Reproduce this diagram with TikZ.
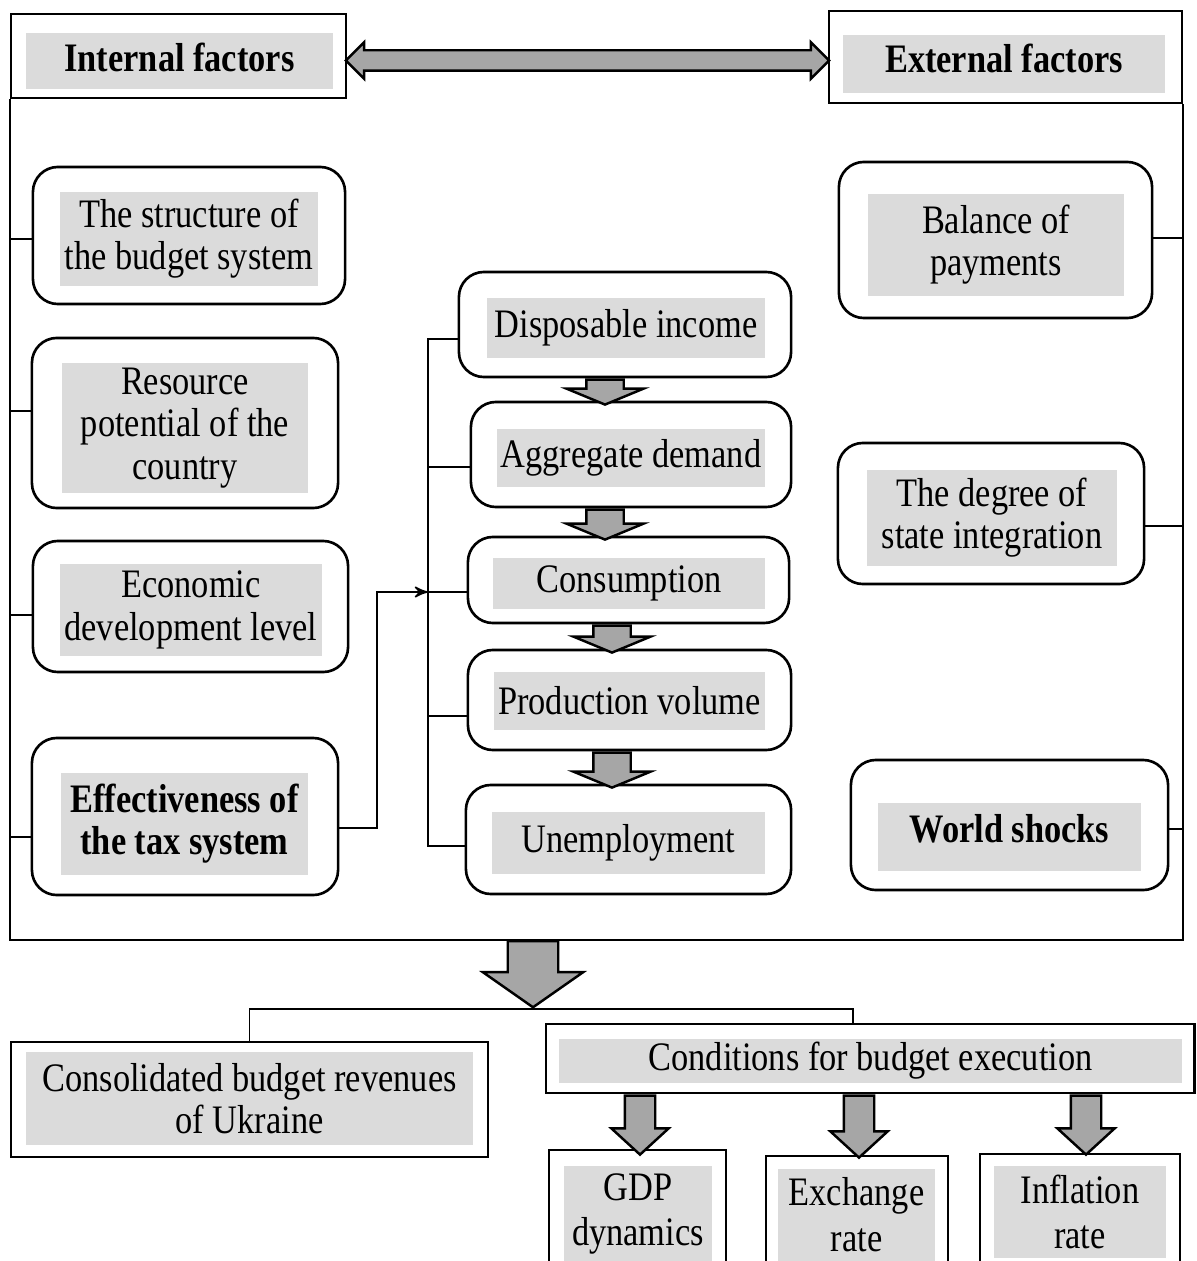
\documentclass[tikz,border=0pt]{standalone}
\usepackage{fontspec}
\setmainfont{Liberation Serif}[FakeStretch=0.85]
\usepackage{tikz}
\usetikzlibrary{arrows,shapes.arrows,calc}

\definecolor{labelgray}{RGB}{219,219,219}
\definecolor{arrowgray}{RGB}{166,166,166}

\begin{document}
\begin{tikzpicture}[x=0.01cm,y=-0.01cm,
		every node/.style={font=\fontsize{11.5}{12}\selectfont},
		plain box/.style={draw,line width=0.75pt,inner sep=0pt},
		round box/.style={plain box,rounded corners=0.25cm},
		gray label/.style={fill=labelgray,inner sep=0pt,align=center},
		bold label/.style={gray label,font=\fontsize{11.5}{12}\selectfont\bfseries},
		low label/.style={gray label,font=\fontsize{11.5}{13}\selectfont},
		block arrow/.style={single arrow,draw,fill=arrowgray,line width=0.7pt,rotate=-90,anchor=tail,inner xsep=0pt},
		mid arrow/.style={block arrow,inner ysep=0.175cm,single arrow head extend=0.2cm,single arrow tip angle=135},
		big arrow/.style={block arrow,inner ysep=0.24cm,single arrow head extend=0.25cm,single arrow tip angle=110},
		small arrow/.style={block arrow,inner ysep=0.14cm,single arrow head extend=0.135cm,single arrow tip angle=95},
		frame/.style={line width=0.6pt},
		link/.style={line width=0.45pt}]

	\useasboundingbox (0,0) rectangle (1196,1261);
	\clip (0,0) rectangle (1196,1261);

	% headings
	\node[plain box,minimum width=3.35cm,minimum height=0.84cm] (int) at (178.5,56) {};
	\node[bold label,minimum width=3.07cm,minimum height=0.55cm,text depth=0.08cm] (intl) at (179.5,61) {Internal factors};
	\node[plain box,minimum width=3.53cm,minimum height=0.92cm] (ext) at (1005.5,57) {};
	\node[bold label,minimum width=3.22cm,minimum height=0.58cm,text depth=0.12cm] (extl) at (1004,64) {External factors};
	\node[double arrow,draw,fill=arrowgray,line width=0.7pt,inner xsep=0pt,inner ysep=0.09cm,
		double arrow head extend=0.08cm,minimum height=4.83cm] (both) at ($(int.east)!.5!(ext.west)+(0,4)$) {};

	% internal factors
	\node[round box,minimum width=3.12cm,minimum height=1.37cm] (l1) at (189,235.5) {};
	\node[gray label,minimum width=2.58cm,minimum height=0.94cm] (l1t) at (189,239) {The structure of\\the budget system};
	\node[round box,minimum width=3.06cm,minimum height=1.70cm] (l2) at (185,423) {};
	\node[gray label,minimum width=2.46cm,minimum height=1.30cm] (l2t) at (185,428) {Resource\\potential of the\\country};
	\node[round box,minimum width=3.15cm,minimum height=1.31cm] (l3) at (190.5,606.5) {};
	\node[gray label,minimum width=2.62cm,minimum height=0.91cm] (l3t) at (191,610) {Economic\\development level};
	\node[round box,minimum width=3.06cm,minimum height=1.57cm] (l4) at (185,816.5) {};
	\node[bold label,minimum width=2.47cm,minimum height=1.02cm] (l4t) at (184.5,824) {Effectiveness of\\the tax system};

	% chain in the middle
	\node[round box,minimum width=3.32cm,minimum height=1.05cm] (m1) at (625,324.5) {};
	\node[gray label,minimum width=2.78cm,minimum height=0.59cm] (m1t) at (626,328) {Disposable income};
	\node[round box,minimum width=3.20cm,minimum height=1.05cm] (m2) at (631,454.5) {};
	\node[gray label,minimum width=2.68cm,minimum height=0.58cm] (m2t) at (631,458) {Aggregate demand};
	\node[round box,minimum width=3.21cm,minimum height=0.86cm] (m3) at (628.5,580) {};
	\node[gray label,minimum width=2.72cm,minimum height=0.51cm] (m3t) at (629,583.5) {Consumption};
	\node[round box,minimum width=3.23cm,minimum height=1.00cm] (m4) at (629.5,700) {};
	\node[gray label,minimum width=2.71cm,minimum height=0.58cm] (m4t) at (629.5,701) {Production volume};
	\node[round box,minimum width=3.25cm,minimum height=1.09cm] (m5) at (628.5,839.5) {};
	\node[gray label,minimum width=2.73cm,minimum height=0.62cm] (m5t) at (628.5,843) {Unemployment};

	\node[mid arrow,minimum height=0.25cm] (a1) at (m1.south -| 605,0) {};
	\node[mid arrow,minimum height=0.30cm] (a2) at (m2.south -| 605,0) {};
	\node[mid arrow,minimum height=0.27cm] (a3) at (m3.south -| 612,0) {};
	\node[mid arrow,minimum height=0.35cm] (a4) at (m4.south -| 612,0) {};

	% external factors
	\node[round box,minimum width=3.13cm,minimum height=1.56cm] (r1) at (995.5,240) {};
	\node[gray label,minimum width=2.56cm,minimum height=1.02cm] (r1t) at (996,245) {Balance of\\payments};
	\node[round box,minimum width=3.06cm,minimum height=1.41cm] (r2) at (991,513.5) {};
	\node[gray label,minimum width=2.50cm,minimum height=0.95cm] (r2t) at (992,518) {The degree of\\state integration};
	\node[round box,minimum width=3.17cm,minimum height=1.30cm] (r3) at (1009.5,825) {};
	\node[bold label,minimum width=2.63cm,minimum height=0.67cm,text depth=0.18cm] (r3t) at (1009.5,837) {World shocks};

	% frame and links
	\coordinate (base) at (0,940);
	\coordinate (bus) at (428,0);
	\draw[frame] (int.south west) |- (base -| ext.south east) -- (ext.south east);
	\draw[link] (int.west |- 0,239) -- (l1.west |- 0,239);
	\draw[link] (int.west |- 0,411) -- (l2.west |- 0,411);
	\draw[link] (int.west |- 0,615) -- (l3.west |- 0,615);
	\draw[link] (int.west |- 0,837) -- (l4.west |- 0,837);
	\draw[link] (r1.east |- 0,238) -- (ext.east |- 0,238);
	\draw[link] (r2.east |- 0,526) -- (ext.east |- 0,526);
	\draw[link] (r3.east |- 0,829) -- (ext.east |- 0,829);
	\draw[link] (m1.west |- 0,339) -| (bus |- 0,846) -- (m5.west |- 0,846);
	\draw[link] (bus |- 0,467) -- (m2.west |- 0,467);
	\draw[link] (bus |- 0,592) -- (m3.west |- 0,592);
	\draw[link] (bus |- 0,716) -- (m4.west |- 0,716);
	\draw[link,->,>=stealth'] (l4.east |- 0,828) -| (377,592) -- (bus |- 0,592);

	% results
	\node[big arrow,minimum height=0.66cm] (down) at (base -| 533,0) {};
	\node[plain box,minimum width=4.77cm,minimum height=1.15cm] (cons) at (249.5,1099.5) {};
	\node[gray label,minimum width=4.47cm,minimum height=0.93cm] (const) at (249.5,1098.5) {Consolidated budget revenues\\of Ukraine};
	\node[plain box,minimum width=6.48cm,minimum height=0.69cm] (cond) at (870,1058.5) {};
	\node[gray label,minimum width=6.23cm,minimum height=0.44cm] (condt) at (870.5,1061) {Conditions for budget execution};
	\draw[link] (cons.north) |- (down.tip -| 853,0) -- (cond.north -| 853,0);

	\node[plain box,minimum width=1.77cm,minimum height=1.40cm] (gdp) at (637.5,1220) {};
	\node[low label,minimum width=1.48cm,minimum height=0.96cm] (gdpt) at (638,1214) {GDP\\dynamics};
	\node[plain box,minimum width=1.82cm,minimum height=1.34cm] (exch) at (857,1223) {};
	\node[low label,minimum width=1.57cm,minimum height=0.91cm] (excht) at (856.5,1215) {Exchange\\rate};
	\node[plain box,minimum width=2.00cm,minimum height=1.36cm] (infl) at (1080,1222) {};
	\node[low label,minimum width=1.72cm,minimum height=0.92cm] (inflt) at (1080,1212) {Inflation\\rate};

	\node[small arrow,minimum height=0.59cm] (d1) at (cond.south -| 640,0) {};
	\node[small arrow,minimum height=0.62cm] (d2) at (cond.south -| 859,0) {};
	\node[small arrow,minimum height=0.59cm] (d3) at (cond.south -| 1086,0) {};

\end{tikzpicture}
\end{document}
